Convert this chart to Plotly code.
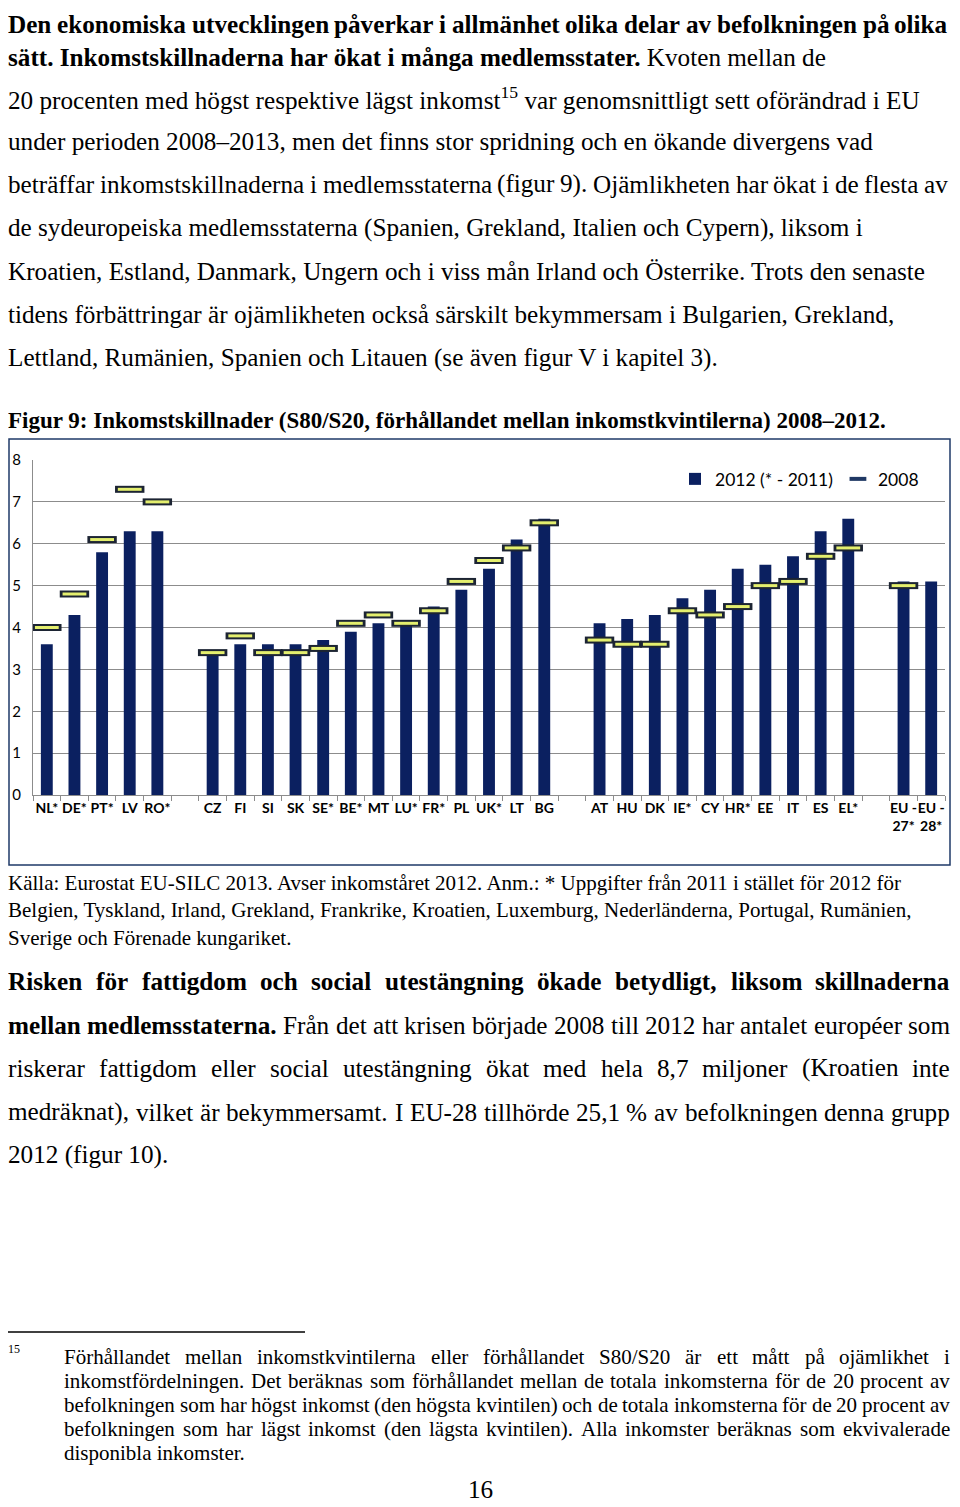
import plotly.graph_objects as go

# page is photographed at 960x1507; the plot div sits 8px in from the body edge
PAGE_W, PAGE_H = 960, 1507
OFF = 8
FW, FH = PAGE_W - 2 * OFF, PAGE_H - OFF
RIGHT = 950

# chart data
countries = ["NL*", "DE*", "PT*", "LV", "RO*", " ",
             "CZ", "FI", "SI", "SK", "SE*", "BE*", "MT", "LU*", "FR*", "PL", "UK*", "LT", "BG", "  ",
             "AT", "HU", "DK", "IE*", "CY", "HR*", "EE", "IT", "ES", "EL*", "   ",
             "EU -27*", "EU -28*"]
tick_labels = ["NL*", "DE*", "PT*", "LV", "RO*", "",
               "CZ", "FI", "SI", "SK", "SE*", "BE*", "MT", "LU*", "FR*", "PL", "UK*", "LT", "BG", "",
               "AT", "HU", "DK", "IE*", "CY", "HR*", "EE", "IT", "ES", "EL*", "",
               "EU -<br>27*", "EU -<br>28*"]
s80_2012 = [3.6, 4.3, 5.8, 6.3, 6.3, None,
            3.4, 3.6, 3.6, 3.6, 3.7, 3.9, 4.1, 4.1, 4.5, 4.9, 5.4, 6.1, 6.6, None,
            4.1, 4.2, 4.3, 4.7, 4.9, 5.4, 5.5, 5.7, 6.3, 6.6, None,
            5.1, 5.1]
s80_2008 = [4.0, 4.8, 6.1, 7.3, 7.0, None,
            3.4, 3.8, 3.4, 3.4, 3.5, 4.1, 4.3, 4.1, 4.4, 5.1, 5.6, 5.9, 6.5, None,
            3.7, 3.6, 3.6, 4.4, 4.3, 4.5, 5.0, 5.1, 5.7, 5.9, None,
            5.0, None]

NAVY = "#0b2060"
GRID = "#8c8c8c"
SERIF = "Liberation Serif"
SANS = "Lato"
BODY = 25.2
SMALL = 21

# Times (= Liberation Serif) advance widths, 1/1000 em
_R = dict(zip("abcdefghijklmnopqrstuvwxyz",
              [444, 500, 444, 500, 444, 333, 500, 500, 278, 278, 500, 278, 778,
               500, 500, 500, 500, 333, 389, 278, 500, 500, 722, 500, 500, 444]))
_R.update(zip("ABCDEFGHIJKLMNOPQRSTUVWXYZ",
              [722, 667, 667, 722, 611, 556, 722, 722, 333, 389, 722, 611, 889,
               722, 722, 556, 722, 667, 556, 611, 722, 722, 944, 722, 722, 611]))
_R.update({" ": 250, ",": 250, ".": 250, "(": 333, ")": 333, "-": 333, "/": 278,
           ":": 278, "%": 833, "*": 500, "–": 500})
_B = dict(zip("abcdefghijklmnopqrstuvwxyz",
              [500, 556, 444, 556, 444, 333, 500, 556, 278, 333, 556, 278, 833,
               556, 500, 556, 556, 444, 389, 333, 556, 500, 722, 500, 500, 444]))
_B.update(zip("ABCDEFGHIJKLMNOPQRSTUVWXYZ",
              [722, 667, 722, 722, 667, 611, 778, 778, 389, 500, 778, 667, 944,
               722, 778, 611, 778, 722, 556, 667, 722, 722, 1000, 722, 722, 667]))
_B.update({" ": 250, ",": 250, ".": 250, "(": 333, ")": 333, "-": 333, "/": 278,
           ":": 333, "%": 1000, "*": 500, "–": 500})
_ACC = {"å": "a", "ä": "a", "ö": "o", "é": "e", "Å": "A", "Ä": "A", "Ö": "O"}

para1 = [
    ([("Den ekonomiska utvecklingen påverkar i allmänhet olika delar av befolkningen på olika", True)], 25, True),
    ([("sätt. Inkomstskillnaderna har ökat i många medlemsstater.", True), (" Kvoten mellan de", False)], 58, False),
    ([("20 procenten med högst respektive lägst inkomst<sup>15</sup> var genomsnittligt sett oförändrad i EU", False)], 98, False),
    ([("under perioden 2008–2013, men det finns stor spridning och en ökande divergens vad", False)], 141, False),
    ([("beträffar inkomstskillnaderna i medlemsstaterna (figur 9). Ojämlikheten har ökat i de flesta av", False)], 184, True),
    ([("de sydeuropeiska medlemsstaterna (Spanien, Grekland, Italien och Cypern), liksom i", False)], 228, False),
    ([("Kroatien, Estland, Danmark, Ungern och i viss mån Irland och Österrike. Trots den senaste", False)], 271, False),
    ([("tidens förbättringar är ojämlikheten också särskilt bekymmersam i Bulgarien, Grekland,", False)], 314, False),
    ([("Lettland, Rumänien, Spanien och Litauen (se även figur V i kapitel 3).", False)], 358, False),
]
fig_title = "<b>Figur 9: Inkomstskillnader (S80/S20, förhållandet mellan inkomstkvintilerna) 2008–2012.</b>"
source = [
    ("Källa: Eurostat EU-SILC 2013. Avser inkomståret 2012. Anm.: * Uppgifter från 2011 i stället för 2012 för", 883),
    ("Belgien, Tyskland, Irland, Grekland, Frankrike, Kroatien, Luxemburg, Nederländerna, Portugal, Rumänien,", 910),
    ("Sverige och Förenade kungariket.", 938),
]
para2 = [
    ([("Risken för fattigdom och social utestängning ökade betydligt, liksom skillnaderna", True)], 982, True),
    ([("mellan medlemsstaterna.", True), (" Från det att krisen började 2008 till 2012 har antalet européer som", False)], 1025, True),
    ([("riskerar fattigdom eller social utestängning ökat med hela 8,7 miljoner (Kroatien inte", False)], 1068, True),
    ([("medräknat), vilket är bekymmersamt. I EU-28 tillhörde 25,1 % av befolkningen denna grupp", False)], 1112, True),
    ([("2012 (figur 10).", False)], 1155, False),
]
footnote = [
    ([("Förhållandet mellan inkomstkvintilerna eller förhållandet S80/S20 är ett mått på ojämlikhet i", False)], 1357, True),
    ([("inkomstfördelningen. Det beräknas som förhållandet mellan de totala inkomsterna för de 20 procent av", False)], 1381, True),
    ([("befolkningen som har högst inkomst (den högsta kvintilen) och de totala inkomsterna för de 20 procent av", False)], 1405, True),
    ([("befolkningen som har lägst inkomst (den lägsta kvintilen). Alla inkomster beräknas som ekvivalerade", False)], 1429, True),
    ([("disponibla inkomster.", False)], 1453, False),
]


def fx(x):
    return (x - OFF) / FW


def fy(y):
    return 1 - (y - OFF) / FH


def text_w(s, bold, size):
    tbl = _B if bold else _R
    s = s.replace("<sup>", "").replace("</sup>", "")
    return sum(tbl.get(_ACC.get(c, c), 500) for c in s) * size / 1000


annotations = []


def add_text(text, x, y, size, family=SERIF, anchor="left"):
    annotations.append(dict(
        text=text, x=fx(x), y=fy(y), xref="paper", yref="paper",
        xanchor=anchor, yanchor="middle", showarrow=False,
        borderpad=0, borderwidth=0,
        font=dict(family=family, size=size, color="black"),
    ))


def add_line(segments, y, x0, x1, size, justify):
    if not justify:
        text = "".join(f"<b>{t}</b>" if b else t for t, b in segments)
        add_text(text, x0, y, size)
        return
    words = [(w, b) for t, b in segments for w in t.split()]
    widths = [text_w(w, b, size) for w, b in words]
    gap = (x1 - x0 - sum(widths)) / (len(words) - 1)
    x = x0
    for i, ((w, b), wd) in enumerate(zip(words, widths)):
        t = f"<b>{w}</b>" if b else w
        if i == len(words) - 1:
            add_text(t, x1, y, size, anchor="right")
        else:
            add_text(t, x, y, size)
        x += wd + gap


for segs, y, just in para1:
    add_line(segs, y, OFF, RIGHT - 2, BODY, just)
add_text(fig_title, OFF, 421, 23)
for t, y in source:
    add_text(t, OFF, y, SMALL)
for segs, y, just in para2:
    add_line(segs, y, OFF, RIGHT, BODY, just)
add_text("15", OFF, 1349, 12)
for segs, y, just in footnote:
    add_line(segs, y, 64, RIGHT, SMALL, just)
add_text("16", 480, 1489, BODY, anchor="center")

fig = go.Figure()
fig.add_trace(go.Bar(
    x=countries, y=s80_2012, name="2012 (* - 2011)",
    marker=dict(color=NAVY, line=dict(width=0)), width=0.43,
))
# 2008 markers: a dark dash under a lighter one gives the outlined bar look
fig.add_trace(go.Scatter(
    x=countries, y=s80_2008, name="2008", mode="markers", showlegend=False,
    marker=dict(symbol="line-ew", size=21, line=dict(width=7, color="#1c2433")),
))
fig.add_trace(go.Scatter(
    x=countries, y=s80_2008, name="2008", mode="markers", showlegend=False,
    marker=dict(symbol="line-ew", size=17, line=dict(width=3, color="#e4ef6e")),
    hoverinfo="skip",
))
# legend entry only
fig.add_trace(go.Scatter(
    x=[None], y=[None], name="2008", mode="markers",
    marker=dict(symbol="line-ew", size=12, line=dict(width=4, color="#1f3864")),
))

shapes = [
    dict(type="rect", xref="paper", yref="paper",
         x0=fx(9), x1=fx(RIGHT), y0=fy(865), y1=fy(439),
         line=dict(color="#1f3a68", width=1.5)),
    dict(type="line", xref="paper", yref="paper",
         x0=fx(8), x1=fx(305), y0=fy(1332), y1=fy(1332),
         line=dict(color="black", width=1.5)),
]

fig.update_layout(
    width=FW, height=FH,
    margin=dict(l=0, r=0, t=0, b=0, autoexpand=False),
    paper_bgcolor="white", plot_bgcolor="white",
    barmode="overlay",
    showlegend=True,
    legend=dict(
        orientation="h", x=fx(924), xanchor="right", y=fy(479), yanchor="middle",
        font=dict(family=SANS, size=17.5, color="black"),
        bgcolor="rgba(0,0,0,0)", itemwidth=30,
    ),
    xaxis=dict(
        domain=[fx(33), fx(945)], automargin=False,
        type="category", categoryorder="array", categoryarray=countries,
        range=[-0.5, len(countries) - 0.5],
        tickmode="array", tickvals=countries, ticktext=tick_labels,
        tickson="boundaries", ticks="outside", ticklen=5, tickcolor=GRID,
        showline=True, linecolor=GRID, linewidth=1,
        showgrid=False,
        tickfont=dict(family=SANS, size=14, color="black", weight="bold"),
        tickangle=0,
    ),
    yaxis=dict(
        domain=[fy(795), fy(460)], automargin=False,
        range=[0, 8], dtick=1,
        showgrid=True, gridcolor=GRID, gridwidth=1,
        showline=True, linecolor=GRID, linewidth=1,
        ticks="", ticklabelstandoff=8,
        tickfont=dict(family=SANS, size=15, color="black"),
        zeroline=False,
    ),
    annotations=annotations,
    shapes=shapes,
)

fig.write_html("out.html")
